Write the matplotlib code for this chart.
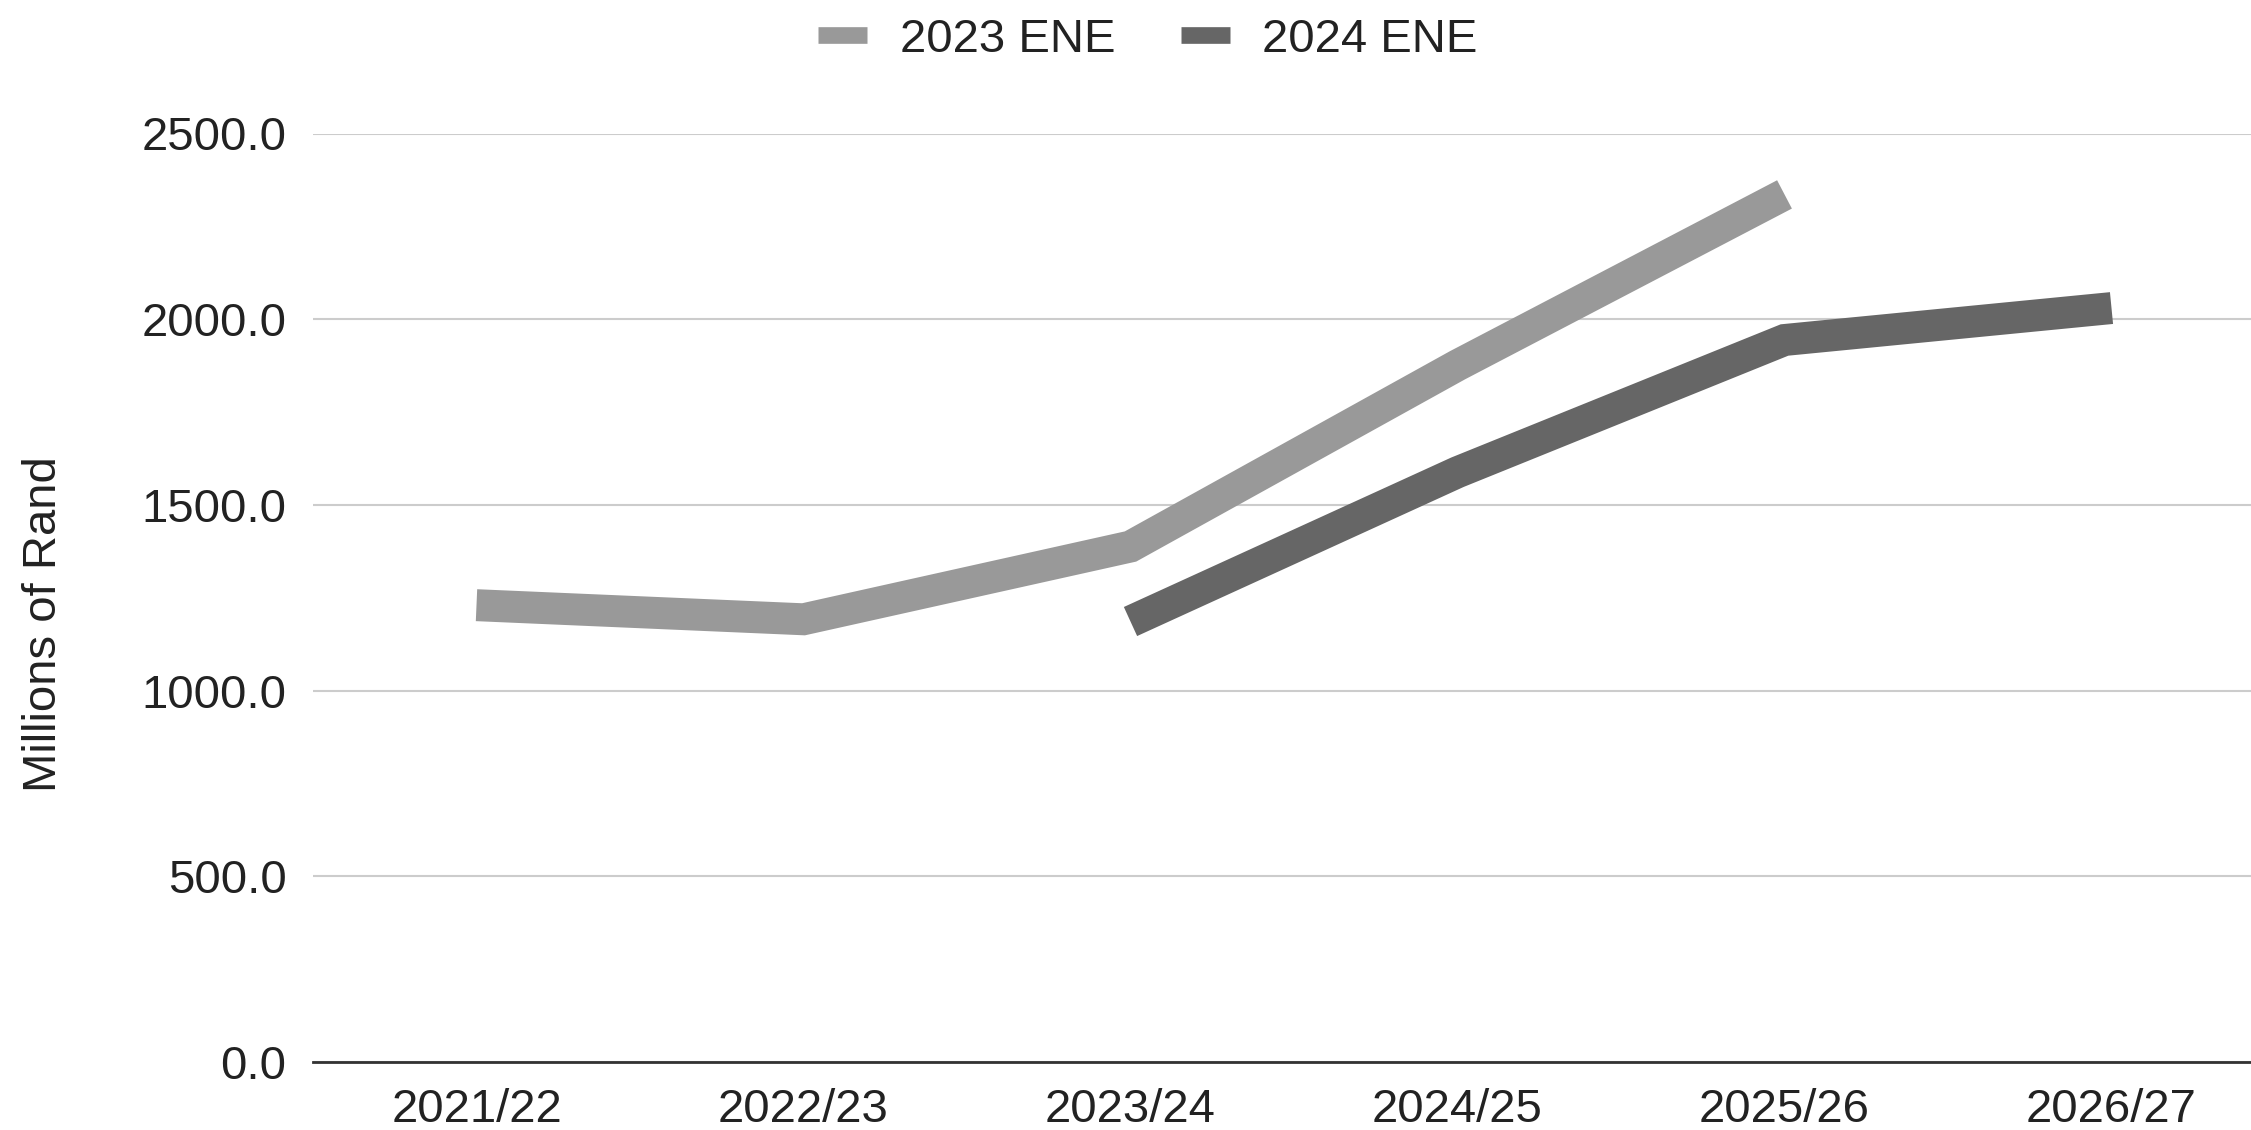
import matplotlib.pyplot as plt
from matplotlib.lines import Line2D
import numpy as np

years = ['2021/22', '2022/23', '2023/24', '2024/25', '2025/26', '2026/27']
ene_2023 = [1230, 1192, 1388, 1876, 2336, np.nan]
ene_2024 = [np.nan, np.nan, 1186, 1588, 1944, 2030]
yticks = [0, 500, 1000, 1500, 2000, 2500]

light = '#999999'
dark = '#666666'

plt.rcParams['font.family'] = ['Liberation Sans', 'DejaVu Sans']

fig = plt.figure(figsize=(22.51, 11.30), dpi=100)
ax = fig.add_axes([313 / 2251, 1 - 1062 / 1130, 1 - 313 / 2251, (1062 - 133.5) / 1130])

x = np.arange(len(years))
ax.plot(x, ene_2023, color=light, lw=23, solid_capstyle='butt', solid_joinstyle='miter', clip_on=False, zorder=3)
ax.plot(x, ene_2024, color=dark, lw=23, solid_capstyle='butt', solid_joinstyle='miter', clip_on=False, zorder=3)

ax.set_xlim(-0.5, (2251 - 476.5) / 327)
ax.set_ylim(0, 2500)
ax.set_xticks(x)
ax.set_xticklabels(years)
ax.set_yticks(yticks)
ax.set_yticklabels(['%.1f' % v for v in yticks])
ax.tick_params(axis='both', length=0, labelsize=34, labelcolor='#222222')
ax.tick_params(axis='y', pad=19)
ax.tick_params(axis='x', pad=19)

ax.grid(axis='y', color='#cccccc', lw=1.5)
ax.set_axisbelow(True)
for s in ['top', 'right', 'left']:
    ax.spines[s].set_visible(False)
ax.spines['bottom'].set_color('#333333')
ax.spines['bottom'].set_linewidth(2)
ax.spines['bottom'].set_zorder(4)

fig.text(44.5 / 2251, 1 - 624.5 / 1130, 'Millions of Rand', rotation=90, fontsize=34,
         color='#222222', ha='center', va='center')

handles = [Line2D([], [], color=light, lw=12, solid_capstyle='butt'),
           Line2D([], [], color=dark, lw=12, solid_capstyle='butt')]
fig.legend(handles, ['2023 ENE', '2024 ENE'], loc='center', bbox_to_anchor=(1148 / 2251, 1 - 40 / 1130),
           ncol=2, frameon=False, fontsize=34, handlelength=1.04, handletextpad=0.68,
           columnspacing=1.4, labelcolor='#222222', borderpad=0)

fig.savefig('out.png', dpi=100)
